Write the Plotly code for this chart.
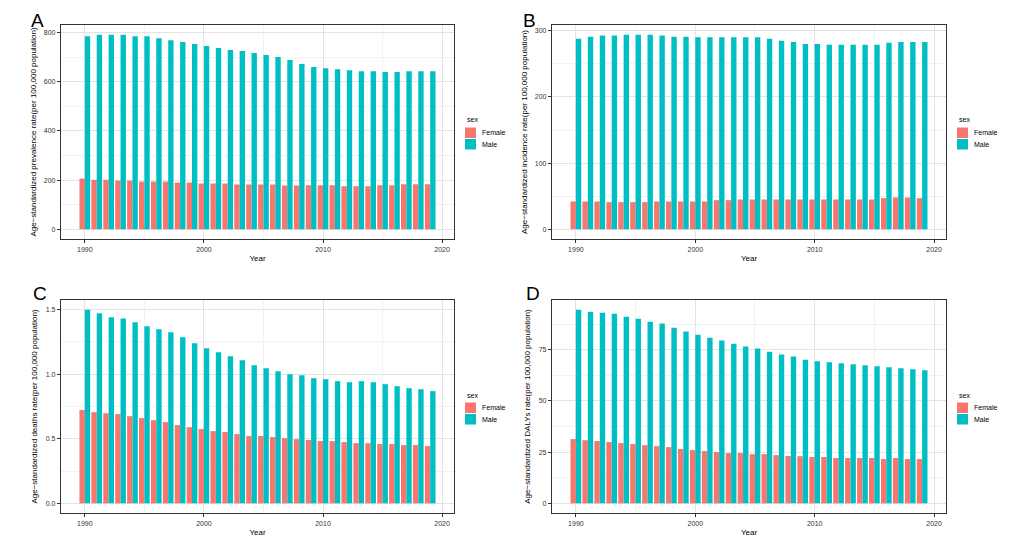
import plotly.graph_objects as go
from plotly.subplots import make_subplots

# Age-standardized rates, 1990-2019, by sex
years = list(range(1990, 2020))

prevalence_female = [206, 201, 201, 198, 198, 194, 194, 194, 190, 190, 186, 186, 186, 182, 182,
                     182, 182, 178, 178, 179, 179, 179, 175, 175, 175, 179, 179, 183, 183, 183]
prevalence_male = [785, 791, 791, 791, 785, 785, 777, 769, 761, 753, 745, 737, 729, 725, 717,
                   709, 700, 688, 672, 660, 655, 651, 647, 643, 643, 639, 639, 643, 643, 643]

incidence_female = [42, 42, 42, 41, 41, 41, 41, 42, 42, 42, 42, 42, 44, 44, 45,
                    45, 45, 45, 45, 45, 45, 45, 45, 45, 45, 45, 47, 48, 48, 47]
incidence_male = [288, 291, 293, 293, 294, 294, 294, 293, 291, 291, 290, 290, 290, 290, 290,
                  290, 288, 285, 283, 280, 280, 279, 279, 279, 279, 279, 282, 283, 283, 283]

deaths_female = [0.724, 0.706, 0.698, 0.691, 0.675, 0.660, 0.644, 0.629, 0.606, 0.590,
                 0.575, 0.559, 0.552, 0.536, 0.521, 0.521, 0.513, 0.505, 0.497, 0.490,
                 0.482, 0.482, 0.474, 0.466, 0.466, 0.459, 0.459, 0.451, 0.451, 0.443]
deaths_male = [1.500, 1.472, 1.441, 1.431, 1.402, 1.371, 1.348, 1.325, 1.286, 1.240,
               1.201, 1.170, 1.139, 1.108, 1.070, 1.046, 1.023, 1.000, 0.992, 0.969,
               0.961, 0.946, 0.938, 0.946, 0.938, 0.923, 0.907, 0.892, 0.884, 0.869]

dalys_female = [31.3, 30.8, 30.4, 29.9, 29.4, 28.9, 28.4, 27.9, 27.4, 26.5,
                26.0, 25.5, 25.0, 24.5, 24.5, 24.0, 24.0, 23.5, 23.1, 23.0,
                22.6, 22.6, 22.1, 22.1, 22.1, 22.1, 21.6, 22.1, 21.6, 21.6]
dalys_male = [94.5, 93.5, 93.0, 92.5, 91.1, 90.1, 88.6, 87.7, 85.7, 83.8,
              82.3, 80.8, 79.4, 77.9, 76.5, 75.5, 74.0, 72.6, 71.6, 70.1,
              69.3, 68.8, 68.3, 67.9, 67.4, 66.9, 66.4, 65.9, 65.4, 64.9]

sexes = ["Female", "Male"]
panel_letters = ["A", "B", "C", "D"]
y_titles = [
    "Age\u2212standardized prevalence rate(per 100,000 population)",
    "Age\u2212standardized incidence rate(per 100,000 population)",
    "Age\u2212standardized deaths rate(per 100,000 population)",
    "Age\u2212standardized DALYs rate(per 100,000 population)",
]
y_ticks = [[0, 200, 400, 600, 800], [0, 100, 200, 300], [0, 0.5, 1.0, 1.5], [0, 25, 50, 75]]
y_tick_text = [None, None, ["0.0", "0.5", "1.0", "1.5"], None]
panels = [
    (prevalence_female, prevalence_male),
    (incidence_female, incidence_male),
    (deaths_female, deaths_male),
    (dalys_female, dalys_male),
]

W, H = 1015, 546
OFF = 8  # page body margin: the figure is drawn 8px in from the window corner
COLORS = {"Female": "#F8766D", "Male": "#00BFC4"}
FONT = "Liberation Sans, Arial, Helvetica, sans-serif"


def px(x):
    return (x - OFF) / W


def py(y):
    return 1 - (y - OFF) / H


# panel boxes in window pixels (left, right, top, bottom)
boxes = [(61, 454, 25, 239), (552, 946, 25, 239), (61, 454, 300, 513), (552, 946, 300, 513)]
letter_pos = [(37.5, 20), (529, 20), (40, 293), (533, 293)]

fig = make_subplots(rows=2, cols=2)
shapes = []

for i, (fem, mal) in enumerate(panels):
    r, c = i // 2 + 1, i % 2 + 1
    for sex, vals in zip(sexes, (fem, mal)):
        fig.add_trace(go.Bar(x=years, y=vals, name=sex, marker_color=COLORS[sex],
                             marker_line_width=0, showlegend=False, offsetgroup=sex),
                      row=r, col=c)

    left, right, top, bottom = boxes[i]
    hi = max(max(fem), max(mal))
    pad = 0.05 * hi
    suffix = "" if i == 0 else str(i + 1)

    fig.layout["xaxis" + suffix].update(
        domain=[px(left), px(right)], range=[1988, 2021], tickvals=[1990, 2000, 2010, 2020],
        showgrid=True, gridcolor="#E3E3E3", gridwidth=1,
        minor=dict(showgrid=True, gridcolor="#F2F2F2", gridwidth=0.6, dtick=5, tick0=1990),
        showline=True, mirror=True, linecolor="#333333", linewidth=1.2,
        ticks="outside", ticklen=3, tickcolor="#333333", tickwidth=0.8,
        tickfont=dict(size=7, color="#333333"),
        title=dict(text="Year", font=dict(size=8, color="black"), standoff=3),
        zeroline=False, automargin=False,
    )
    yt = dict(tickvals=y_ticks[i])
    if y_tick_text[i]:
        yt["ticktext"] = y_tick_text[i]
    minor_step = (y_ticks[i][1] - y_ticks[i][0]) / 2
    fig.layout["yaxis" + suffix].update(
        domain=[py(bottom), py(top)], range=[-pad, hi + pad], **yt,
        showgrid=True, gridcolor="#E3E3E3", gridwidth=1,
        minor=dict(showgrid=True, gridcolor="#F2F2F2", gridwidth=0.6, dtick=minor_step, tick0=0),
        showline=True, mirror=True, linecolor="#333333", linewidth=1.2,
        ticks="outside", ticklen=3, tickcolor="#333333", tickwidth=0.8,
        tickfont=dict(size=7, color="#333333"),
        title=dict(text=y_titles[i], font=dict(size=8, color="black"), standoff=6),
        zeroline=False, automargin=False,
    )

    # ggplot-style legend to the right of each panel
    lx = right + 11
    ly = top + 95
    fig.add_annotation(text="sex", xref="paper", yref="paper", x=px(lx), y=py(ly),
                       xanchor="left", yanchor="middle", showarrow=False,
                       font=dict(size=7, color="black"))
    for k, sex in enumerate(sexes):
        y0 = ly + 7.5 + k * 11.5
        shapes.append(dict(type="rect", xref="paper", yref="paper",
                           x0=px(lx), x1=px(lx + 11), y0=py(y0), y1=py(y0 + 10.5),
                           fillcolor=COLORS[sex], line=dict(width=0)))
        fig.add_annotation(text=sex, xref="paper", yref="paper", x=px(lx + 15),
                           y=py(y0 + 5.25), xanchor="left", yanchor="middle",
                           showarrow=False, font=dict(size=7, color="black"))

    lxp, lyp = letter_pos[i]
    fig.add_annotation(text=panel_letters[i], xref="paper", yref="paper",
                       x=px(lxp), y=py(lyp), xanchor="center", yanchor="middle",
                       showarrow=False, font=dict(size=19, color="black"))

fig.update_layout(
    width=W, height=H,
    margin=dict(l=0, r=0, t=0, b=0),
    barmode="group", bargap=0.1, bargroupgap=0,
    plot_bgcolor="white", paper_bgcolor="white",
    font=dict(family=FONT, color="black"),
    shapes=shapes,
)

fig.write_html("out.html")
